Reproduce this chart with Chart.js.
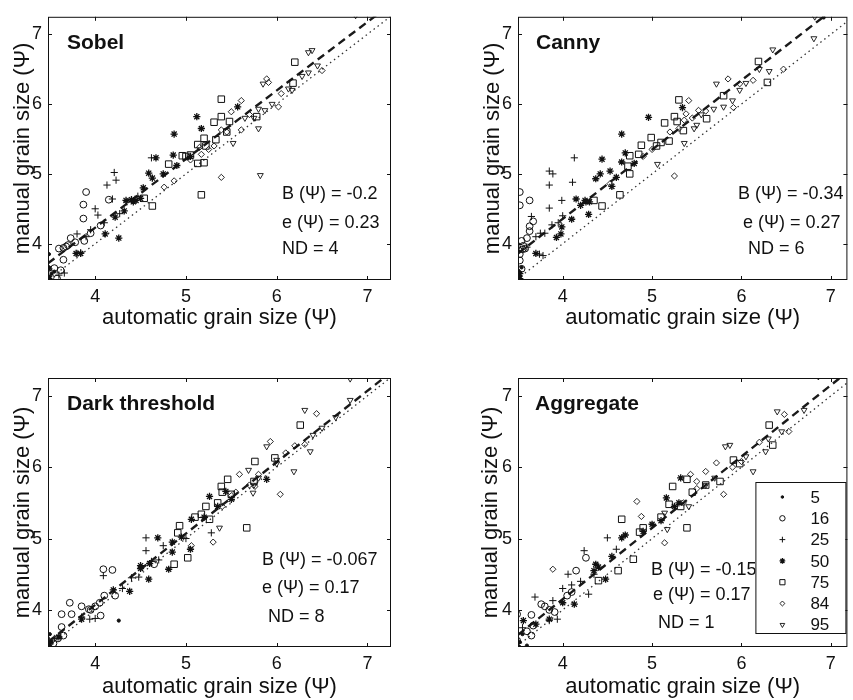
<!DOCTYPE html>
<html lang="en">
<head>
<meta charset="UTF-8">
<title>Automatic vs manual grain size</title>
<script src="https://cdn.jsdelivr.net/npm/chart.js"></script>
<style>
  body { margin: 0; background: #fff; }
  #wrap { position: relative; width: 853px; height: 700px; overflow: hidden; }
  .panel { position: absolute; }
</style>
</head>
<body>
<div id="wrap">
  <canvas class="panel" id="sobel" width="426" height="350" style="left:0;top:0"></canvas>
  <canvas class="panel" id="canny" width="426" height="350" style="left:427px;top:0"></canvas>
  <canvas class="panel" id="dark" width="426" height="350" style="left:0;top:350px"></canvas>
  <canvas class="panel" id="aggregate" width="426" height="350" style="left:427px;top:350px"></canvas>
</div>
<script>
// percentiles of the grain size distribution, one marker type each
const percentiles = ['5', '16', '25', '50', '75', '84', '95'];
const axisTicks = [4, 5, 6, 7];
const oneToOne = [[3.4, 3.4], [7.4, 7.4]];

// [automatic, manual] pairs, psi units
const sobelP05 = [[3.49,3.5],[3.5,3.53],[3.52,3.57],[3.49,3.66],[3.49,3.85],[3.55,3.6]];
const sobelP16 = [[3.58,3.5],[3.55,3.65],[3.65,3.77],[3.6,3.93],[3.65,3.94],[3.73,4.08],[3.78,4.02],[3.88,4.04],[3.87,4.36],[3.87,4.56],[3.9,4.74],[4.15,4.63],[4.06,4.26],[3.68,3.96],[3.62,3.62],[3.7,3.98],[3.95,4.15]];
const sobelP25 = [[3.6,3.55],[3.66,3.58],[3.8,3.86],[3.84,3.87],[3.8,4.14],[4.0,4.5],[4.03,4.41],[4.13,4.84],[4.21,5.02],[4.23,4.91],[4.19,4.64],[4.62,5.23],[4.35,4.6],[3.95,4.2],[4.1,4.3],[4.47,4.68],[3.9,4.1],[4.27,4.43]];
const sobelP50 = [[3.49,3.5],[3.49,3.64],[3.79,3.86],[3.84,3.86],[4.11,4.14],[4.26,4.08],[4.32,4.47],[4.34,4.62],[4.4,4.63],[4.53,4.8],[4.59,5.01],[4.63,4.94],[4.67,5.23],[4.86,5.27],[4.87,5.57],[5.12,5.82],[5.17,5.65],[5.57,5.96],[4.42,4.6],[4.22,4.38],[4.45,4.62],[4.5,4.65],[4.75,5.0],[4.9,5.12],[5.05,5.25]];
const sobelP75 = [[5.39,6.07],[5.39,5.82],[5.31,5.74],[5.48,5.75],[5.2,5.51],[5.13,5.42],[5.2,5.16],[5.13,5.15],[4.81,5.14],[4.54,4.65],[4.63,4.54],[5.17,4.7],[4.96,5.26],[6.2,6.6],[5.78,5.82],[5.33,5.49],[5.0,5.25],[6.18,6.3],[5.05,5.27],[5.22,5.4],[5.45,5.6]];
const sobelP84 = [[5.61,6.05],[5.5,5.89],[5.39,5.63],[5.61,5.63],[5.89,6.36],[5.91,6.31],[6.02,5.96],[6.5,6.48],[5.39,4.95],[5.17,5.28],[5.31,5.4],[4.76,4.81],[4.87,4.9],[5.45,5.6],[6.05,6.15],[5.25,5.35],[5.05,5.2],[5.7,5.85],[5.15,5.38]];
const sobelP95 = [[6.39,6.77],[6.35,6.74],[5.85,6.29],[6.13,6.22],[5.8,5.65],[5.82,4.98],[6.87,7.27],[5.52,5.44],[5.87,5.91],[6.17,6.2],[5.75,5.8],[6.45,6.55],[5.95,6.0],[6.35,6.45],[5.65,5.8],[5.8,5.93],[6.28,6.4]];
const sobelFit = [[3.48,3.72],[7.26,7.43]];

const cannyP05 = [[3.51,3.5],[3.52,3.53],[3.52,3.59],[3.54,3.66],[3.5,3.62],[6.92,7.24]];
const cannyP16 = [[3.52,4.74],[3.52,4.55],[3.63,4.62],[3.63,4.25],[3.67,4.32],[3.63,4.18],[3.54,4.04],[3.56,3.97],[3.52,3.85],[3.52,3.76],[3.6,4.08],[3.54,3.64],[3.58,3.93],[3.55,3.92]];
const cannyP25 = [[4.13,5.23],[3.85,5.04],[3.89,5.0],[3.85,4.84],[4.11,4.88],[3.99,4.62],[3.85,4.51],[3.65,4.39],[3.74,3.85],[3.78,3.83],[3.7,4.1],[3.75,4.15],[3.88,4.27],[4.0,4.4],[3.6,3.95],[3.8,4.15],[3.95,4.3]];
const cannyP50 = [[3.52,3.5],[3.52,3.57],[3.7,3.86],[3.93,4.09],[3.98,4.14],[3.99,4.24],[4.15,4.64],[4.29,4.42],[4.26,4.6],[4.37,4.93],[4.42,5.0],[4.53,5.04],[4.44,5.21],[4.66,5.17],[4.7,5.3],[4.66,5.57],[4.96,5.81],[5.34,5.95],[4.25,4.62],[4.55,4.82],[4.1,4.35],[4.2,4.55],[4.3,4.6],[4.6,4.95],[4.8,5.15]];
const cannyP75 = [[5.3,6.06],[5.25,5.82],[5.14,5.73],[5.28,5.75],[5.61,5.79],[4.88,5.41],[4.99,5.52],[4.75,5.26],[4.73,5.11],[4.75,5.0],[5.19,5.47],[5.1,5.45],[4.44,4.54],[4.35,4.62],[4.64,4.7],[6.29,6.31],[6.19,6.61],[5.8,6.12],[5.05,5.4],[5.35,5.62],[4.85,5.28]];
const cannyP84 = [[5.41,6.05],[5.38,5.86],[5.52,5.91],[5.36,5.77],[5.98,6.29],[5.85,6.36],[6.47,6.5],[5.25,4.97],[5.91,5.95],[4.53,4.86],[6.13,6.34],[5.0,5.35],[5.2,5.6],[4.9,5.25],[5.3,5.65],[5.6,5.9],[5.45,5.8]];
const cannyP95 = [[6.81,6.94],[6.35,6.78],[6.31,6.47],[5.72,6.29],[5.98,6.2],[5.8,5.96],[6.82,7.25],[5.47,5.65],[5.36,5.44],[5.06,5.14],[5.69,5.93],[5.5,5.7],[6.05,6.3],[5.55,5.85],[6.2,6.5],[5.9,6.05]];
const cannyFit = [[3.5,3.86],[7.19,7.52]];

const darkP05 = [[3.48,3.5],[3.48,3.53],[3.48,3.6],[3.5,3.66],[4.26,3.85],[3.52,3.55]];
const darkP16 = [[3.54,3.53],[3.65,3.64],[3.63,3.76],[3.72,4.1],[3.63,3.94],[3.74,3.94],[3.85,4.05],[4.09,4.57],[4.19,4.56],[4.06,3.92],[3.93,4.01],[4.22,4.2],[4.65,4.64],[3.59,3.6],[4.0,4.05],[4.05,4.1],[4.1,4.2],[3.95,4.0]];
const darkP25 = [[4.56,5.01],[4.56,4.83],[4.09,4.48],[3.94,3.87],[4.0,3.88],[4.48,4.46],[5.28,5.08],[3.85,3.9],[4.3,4.3],[4.62,4.68],[4.75,4.9],[5.0,5.0],[3.55,3.6],[4.4,4.45],[4.7,4.7]];
const darkP50 = [[4.69,5.01],[4.59,4.43],[4.38,4.26],[4.85,4.81],[4.81,4.57],[5.05,4.85],[5.26,5.59],[5.89,5.83],[3.85,3.87],[5.44,5.66],[5.06,5.27],[4.5,4.62],[4.2,4.28],[3.5,3.52],[3.6,3.62],[4.95,5.02],[5.5,5.55],[4.5,4.58],[4.6,4.65],[4.85,4.95],[5.2,5.3],[5.35,5.45]];
const darkP75 = [[6.26,6.59],[5.76,6.08],[5.46,5.83],[5.39,5.73],[5.22,5.45],[5.35,5.5],[5.17,5.34],[4.93,5.18],[4.91,5.08],[5.02,4.73],[4.87,4.64],[5.67,5.15],[5.98,6.13],[5.26,5.27],[5.1,5.3],[5.4,5.65],[5.5,5.62],[5.75,5.8]];
const darkP84 = [[6.44,6.75],[5.93,6.36],[5.59,5.9],[6.04,5.62],[5.3,4.95],[6.31,6.32],[5.76,5.73],[5.06,4.9],[5.5,5.6],[5.7,5.75],[6.1,6.2],[5.4,5.45],[5.8,5.9],[6.2,6.3],[5.55,5.65]];
const darkP95 = [[6.31,6.8],[6.81,7.24],[6.81,6.94],[6.19,5.94],[6.37,6.22],[5.89,6.29],[5.37,5.15],[5.69,5.96],[5.74,5.64],[5.8,5.85],[6.0,6.1],[6.5,6.55],[6.65,6.7],[5.75,5.75],[6.4,6.45],[6.0,6.05]];
const darkFit = [[3.48,3.55],[7.26,7.33]];

const aggP05 = [[3.5,3.5],[3.6,3.5],[3.49,3.6],[3.52,3.55],[3.55,3.66]];
const aggP16 = [[3.49,3.94],[3.49,3.57],[3.65,3.93],[3.67,3.78],[3.65,3.64],[3.76,4.08],[3.91,3.97],[4.15,4.55],[4.26,4.73],[3.8,4.05],[3.6,3.7],[4.05,4.2],[3.85,4.0],[4.1,4.25]];
const aggP25 = [[4.5,5.01],[4.24,4.83],[4.06,4.5],[3.69,4.18],[3.89,4.13],[3.94,3.87],[3.49,3.67],[4.29,4.22],[3.55,3.75],[4.0,4.3],[4.6,4.85],[4.2,4.4],[3.85,3.85],[4.1,4.35],[4.35,4.5]];
const aggP50 = [[3.56,3.85],[4.66,5.01],[4.37,4.64],[4.48,4.43],[4.13,4.08],[3.85,3.87],[5.32,5.85],[5.16,5.57],[3.49,3.5],[4.0,4.1],[4.4,4.6],[4.7,5.05],[5.0,5.2],[5.3,5.5],[3.7,3.8],[4.35,4.55],[4.55,4.75],[4.9,5.1],[5.1,5.25],[5.25,5.45]];
const aggP75 = [[6.31,6.59],[6.35,6.31],[5.91,6.1],[5.39,5.83],[5.23,5.73],[5.32,5.45],[5.19,5.48],[4.66,5.27],[4.86,5.09],[4.9,5.15],[4.79,4.71],[4.4,4.41],[4.62,4.55],[5.39,5.15],[5.76,5.8],[5.98,6.05],[5.1,5.3],[5.45,5.65],[5.6,5.75]];
const aggP84 = [[4.83,5.52],[6.48,6.74],[6.53,6.5],[5.43,5.9],[5.6,5.94],[5.72,6.06],[5.8,5.62],[5.14,4.94],[4.88,5.31],[3.89,4.57],[6.0,6.08],[5.5,5.7],[6.2,6.35],[5.35,5.5],[5.9,6.0],[5.5,5.8]];
const aggP95 = [[6.86,7.27],[6.4,6.78],[5.82,6.29],[5.87,6.31],[6.13,5.94],[6.27,6.22],[5.41,5.45],[5.17,5.13],[5.14,5.36],[5.6,5.75],[6.45,6.5],[6.7,6.8],[5.7,5.85],[6.3,6.4],[6.05,6.15]];
const aggFit = [[3.5,3.65],[7.19,7.34]];

const methodNames = ['Sobel', 'Canny', 'Dark threshold', 'Aggregate'];
const biasValues = ['-0.2', '-0.34', '-0.067', '-0.15'];
const errorValues = ['0.23', '0.27', '0.17', '0.17'];
const ndValues = ['4', '6', '8', '1'];

const FONT = 'Liberation Sans, Arial, Helvetica, sans-serif';
const INK = '#111';

// marker look for each percentile
const markers = [
  { pointStyle: 'circle', radius: 1.6, fill: INK, borderWidth: 1 },
  { pointStyle: 'circle', radius: 3.4, fill: 'rgba(0,0,0,0)', borderWidth: 1 },
  { pointStyle: 'cross', radius: 3.6, fill: INK, borderWidth: 1 },
  { pointStyle: 'star', radius: 3.6, fill: INK, borderWidth: 1.3 },
  { pointStyle: 'rect', radius: 4.6, fill: 'rgba(0,0,0,0)', borderWidth: 1 },
  { pointStyle: 'rectRot', radius: 3.1, fill: 'rgba(0,0,0,0)', borderWidth: 0.9 },
  { pointStyle: 'triangle', radius: 3.4, rotation: 180, fill: 'rgba(0,0,0,0)', borderWidth: 0.9 }
];

const panels = [
  { id: 'sobel', pts: [sobelP05, sobelP16, sobelP25, sobelP50, sobelP75, sobelP84, sobelP95], fit: sobelFit,
    xMin: 3.48, xMax: 7.26, area: { left: 48, top: 11, right: 391, bottom: 280 },
    yTitlePad: 9.8, xTitlePad: 18.8, statX: 234, statY: [177, 206, 232], nameX: 19 },
  { id: 'canny', pts: [cannyP05, cannyP16, cannyP25, cannyP50, cannyP75, cannyP84, cannyP95], fit: cannyFit,
    xMin: 3.5, xMax: 7.185, area: { left: 91, top: 11, right: 426, bottom: 280 },
    yTitlePad: 52.8, xTitlePad: 18.8, statX: 220, statXs: [0, 5, 10], statY: [177, 206, 232], nameX: 18 },
  { id: 'dark', pts: [darkP05, darkP16, darkP25, darkP50, darkP75, darkP84, darkP95], fit: darkFit,
    xMin: 3.48, xMax: 7.26, area: { left: 48, top: 28, right: 391, bottom: 297 },
    yTitlePad: 9.8, xTitlePad: 0, statX: 214, statXs: [0, 0, 6], statY: [182, 210, 239], nameX: 19 },
  { id: 'aggregate', pts: [aggP05, aggP16, aggP25, aggP50, aggP75, aggP84, aggP95], fit: aggFit,
    xMin: 3.5, xMax: 7.185, area: { left: 91, top: 28, right: 426, bottom: 297 },
    yTitlePad: 50.8, xTitlePad: 0, statX: 133, statXs: [0, 2, 7], statY: [192, 217, 245], nameX: 17, legend: true }
];

function drawMarker(ctx, m, x, y, scale) {
  ctx.strokeStyle = INK;
  ctx.fillStyle = m.fill;
  ctx.lineWidth = m.borderWidth;
  Chart.helpers.drawPoint(ctx, { pointStyle: m.pointStyle, radius: m.radius * scale, rotation: m.rotation || 0, borderWidth: m.borderWidth }, x, y);
}

// box, inward tick marks, method name, error statistics and legend
const decorations = {
  id: 'decorations',
  afterDraw(chart, args, opts) {
    const { ctx, chartArea: a, scales: { x, y } } = chart;
    const p = opts.panel;
    ctx.save();
    ctx.strokeStyle = INK;
    ctx.lineWidth = 1;
    ctx.strokeRect(a.left + 0.5, a.top + 0.5, a.right - a.left - 1, a.bottom - a.top - 1);
    ctx.beginPath();
    axisTicks.forEach(v => {
      const px = Math.round(x.getPixelForValue(v)) + 0.5;
      ctx.moveTo(px, a.bottom); ctx.lineTo(px, a.bottom - 4);
      ctx.moveTo(px, a.top); ctx.lineTo(px, a.top + 4);
      const py = Math.round(y.getPixelForValue(v)) + 0.5;
      ctx.moveTo(a.left, py); ctx.lineTo(a.left + 4, py);
      ctx.moveTo(a.right, py); ctx.lineTo(a.right - 4, py);
    });
    ctx.stroke();

    ctx.fillStyle = INK;
    ctx.textBaseline = 'alphabetic';
    ctx.font = 'bold 21px ' + FONT;
    ctx.fillText(opts.name, a.left + p.nameX, a.top + 32);

    ctx.font = '18px ' + FONT;
    ctx.textBaseline = 'middle';
    const dx = p.statXs || [0, 0, 0];
    const lines = ['B (\u03A8) = ' + opts.bias, 'e (\u03A8) = ' + opts.err, 'ND = ' + opts.nd];
    lines.forEach((t, i) => ctx.fillText(t, a.left + p.statX + dx[i], a.top + p.statY[i]));

    if (p.legend) {
      const bx = a.right - 92, by = a.bottom - 165, bw = 90, bh = 151;
      ctx.fillStyle = '#fff';
      ctx.fillRect(bx, by, bw, bh);
      ctx.strokeStyle = INK;
      ctx.lineWidth = 1;
      ctx.strokeRect(bx + 0.5, by + 0.5, bw, bh);
      ctx.font = '17px ' + FONT;
      percentiles.forEach((lab, i) => {
        const ly = by + 15 + i * 21.3;
        drawMarker(ctx, markers[i], bx + 27, ly, 0.8);
        ctx.fillStyle = INK;
        ctx.fillText(lab, bx + 55, ly + 1);
      });
    }
    ctx.restore();
  }
};

const toXY = arr => arr.map(([x, y]) => ({ x, y }));

panels.forEach((p, k) => {
  const canvas = document.getElementById(p.id);
  const a = p.area;
  const datasets = p.pts.map((pts, i) => ({
    label: percentiles[i],
    data: toXY(pts),
    pointStyle: markers[i].pointStyle,
    pointRadius: markers[i].radius,
    pointRotation: markers[i].rotation || 0,
    pointBorderWidth: markers[i].borderWidth,
    pointBorderColor: INK,
    pointBackgroundColor: markers[i].fill,
    showLine: false
  }));
  datasets.push({
    type: 'line', label: 'fit', data: toXY(p.fit),
    borderColor: '#1a1a1a', borderWidth: 2.4, borderDash: [8, 5], pointRadius: 0, fill: false
  });
  datasets.push({
    type: 'line', label: '1:1', data: toXY(oneToOne),
    borderColor: '#333', borderWidth: 1.3, borderDash: [1.5, 3.5], pointRadius: 0, fill: false
  });

  new Chart(canvas, {
    type: 'scatter',
    data: { datasets },
    options: {
      responsive: false,
      animation: false,
      devicePixelRatio: 1,
      layout: { padding: { left: 0, top: a.top, right: canvas.width - a.right, bottom: 0 } },
      plugins: {
        legend: { display: false },
        tooltip: { enabled: false },
        decorations: { panel: p, name: methodNames[k], bias: biasValues[k], err: errorValues[k], nd: ndValues[k] }
      },
      scales: {
        x: {
          type: 'linear', min: p.xMin, max: p.xMax,
          afterBuildTicks: s => { s.ticks = axisTicks.map(v => ({ value: v })); },
          afterFit: s => { s.height = canvas.height - a.bottom; },
          grid: { display: false, drawTicks: false },
          border: { display: false },
          ticks: { padding: 6, color: INK, font: { family: FONT, size: 18 } },
          title: { display: true, text: 'automatic grain size (\u03A8)', color: INK,
                   font: { family: FONT, size: 22 }, padding: { top: 0, bottom: p.xTitlePad } }
        },
        y: {
          type: 'linear', min: 3.48, max: 7.25,
          afterBuildTicks: s => { s.ticks = axisTicks.map(v => ({ value: v })); },
          afterFit: s => { s.width = a.left; },
          grid: { display: false, drawTicks: false },
          border: { display: false },
          ticks: { padding: 6, color: INK, font: { family: FONT, size: 18 } },
          title: { display: true, text: 'manual grain size (\u03A8)', color: INK,
                   font: { family: FONT, size: 22 }, padding: { top: p.yTitlePad, bottom: 0 } }
        }
      }
    },
    plugins: [decorations]
  });
});
</script>
</body>
</html>
